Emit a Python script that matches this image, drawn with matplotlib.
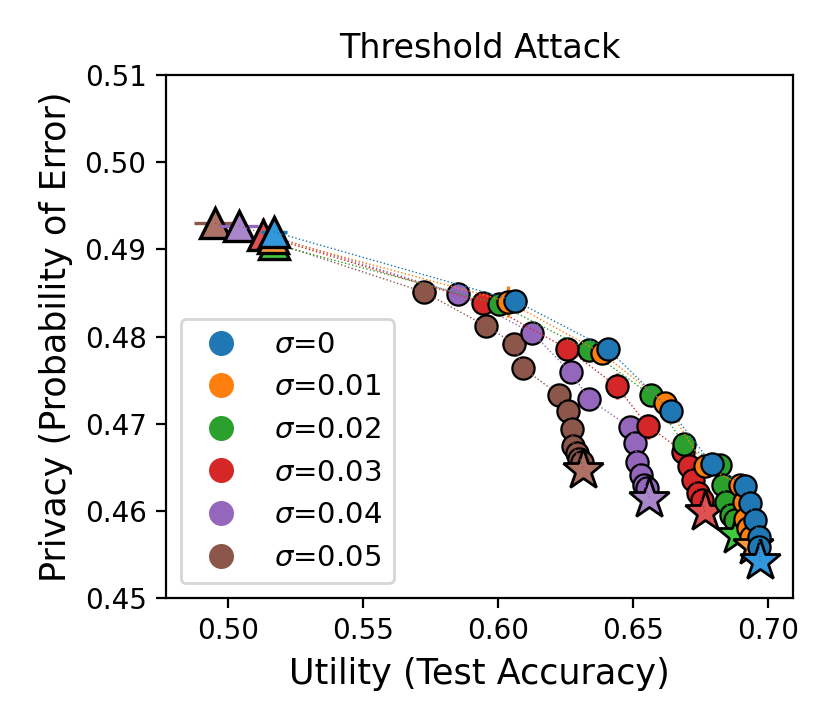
import colorsys

import matplotlib
matplotlib.use("Agg")
import matplotlib.pyplot as plt
from matplotlib.colors import to_rgb
from matplotlib.lines import Line2D

# sigma values (legend) and tab colours
sigmas = ["0", "0.01", "0.02", "0.03", "0.04", "0.05"]
colors = ["tab:blue", "tab:orange", "tab:green", "tab:red", "tab:purple", "tab:brown"]

# utility (test accuracy) / privacy (probability of error) per sigma
acc_s0 = [0.5171, 0.6063, 0.6406, 0.6639, 0.6791, 0.6914, 0.6932, 0.6950, 0.6966, 0.6968, 0.6970]
priv_s0 = [0.4920, 0.4841, 0.4786, 0.4715, 0.4654, 0.4628, 0.4609, 0.4590, 0.4570, 0.4558, 0.4542]
acc_s1 = [0.5168, 0.6038, 0.6384, 0.6618, 0.6766, 0.6896, 0.6910, 0.6914, 0.6926, 0.6936, 0.6945]
priv_s1 = [0.4913, 0.4840, 0.4781, 0.4724, 0.4651, 0.4630, 0.4610, 0.4591, 0.4580, 0.4570, 0.4560]
acc_s2 = [0.5170, 0.6005, 0.6338, 0.6565, 0.6688, 0.6822, 0.6834, 0.6844, 0.6861, 0.6877, 0.6886]
priv_s2 = [0.4906, 0.4837, 0.4784, 0.4733, 0.4677, 0.4653, 0.4630, 0.4610, 0.4595, 0.4589, 0.4572]
acc_s3 = [0.5130, 0.5946, 0.6257, 0.6439, 0.6556, 0.6686, 0.6708, 0.6723, 0.6739, 0.6754, 0.6766]
priv_s3 = [0.4916, 0.4839, 0.4786, 0.4743, 0.4697, 0.4668, 0.4651, 0.4635, 0.4620, 0.4612, 0.4599]
acc_s4 = [0.5041, 0.5853, 0.6127, 0.6269, 0.6338, 0.6489, 0.6507, 0.6516, 0.6528, 0.6540, 0.6550, 0.6559]
priv_s4 = [0.4927, 0.4849, 0.4804, 0.4759, 0.4728, 0.4696, 0.4678, 0.4656, 0.4641, 0.4630, 0.4626, 0.4614]
acc_s5 = [0.4953, 0.5726, 0.5956, 0.6059, 0.6091, 0.6227, 0.6260, 0.6273, 0.6279, 0.6291, 0.6301, 0.6310, 0.6316]
priv_s5 = [0.4930, 0.4851, 0.4812, 0.4792, 0.4764, 0.4733, 0.4715, 0.4694, 0.4674, 0.4666, 0.4660, 0.4656, 0.4647]

# error bars (std over runs)
xerr_s0 = [0.0048, 0.0044, 0.0035, 0.0020, 0.0015, 0.0012, 0.0010, 0.0010, 0.0010, 0.0010, 0.0010]
yerr_s0 = [0.0003, 0.0011, 0.0010, 0.0006, 0.0005, 0.0004, 0.0004, 0.0004, 0.0004, 0.0004, 0.0004]
xerr_s1 = [0.0030, 0.0020, 0.0020, 0.0015, 0.0012, 0.0010, 0.0010, 0.0010, 0.0010, 0.0010, 0.0010]
yerr_s1 = [0.0003, 0.0018, 0.0010, 0.0006, 0.0005, 0.0004, 0.0004, 0.0004, 0.0004, 0.0004, 0.0004]
xerr_s2 = [0.0020, 0.0020, 0.0020, 0.0015, 0.0012, 0.0010, 0.0010, 0.0010, 0.0010, 0.0010, 0.0010]
yerr_s2 = [0.0003, 0.0008, 0.0009, 0.0007, 0.0006, 0.0011, 0.0005, 0.0004, 0.0004, 0.0004, 0.0004]
xerr_s3 = [0.0020, 0.0030, 0.0020, 0.0020, 0.0015, 0.0012, 0.0010, 0.0010, 0.0010, 0.0010, 0.0010]
yerr_s3 = [0.0020, 0.0012, 0.0012, 0.0015, 0.0014, 0.0008, 0.0006, 0.0006, 0.0005, 0.0005, 0.0011]
xerr_s4 = [0.0070, 0.0040, 0.0035, 0.0020, 0.0015, 0.0012, 0.0010, 0.0010, 0.0010, 0.0010, 0.0010, 0.0010]
yerr_s4 = [0.0002, 0.0014, 0.0012, 0.0011, 0.0006, 0.0005, 0.0005, 0.0004, 0.0004, 0.0004, 0.0004, 0.0004]
xerr_s5 = [0.0080, 0.0044, 0.0020, 0.0045, 0.0035, 0.0020, 0.0015, 0.0012, 0.0010, 0.0010, 0.0010, 0.0010, 0.0010]
yerr_s5 = [0.0002, 0.0013, 0.0006, 0.0005, 0.0003, 0.0006, 0.0005, 0.0004, 0.0004, 0.0004, 0.0004, 0.0004, 0.0004]

accs = [acc_s0, acc_s1, acc_s2, acc_s3, acc_s4, acc_s5]
privs = [priv_s0, priv_s1, priv_s2, priv_s3, priv_s4, priv_s5]
xerrs = [xerr_s0, xerr_s1, xerr_s2, xerr_s3, xerr_s4, xerr_s5]
yerrs = [yerr_s0, yerr_s1, yerr_s2, yerr_s3, yerr_s4, yerr_s5]


def lighten(color, amount=0.8):
    h, l, s = colorsys.rgb_to_hls(*to_rgb(color))
    return colorsys.hls_to_rgb(h, 1 - amount * (1 - l), s)


fig = plt.figure(figsize=(4.15, 3.635), dpi=200)
ax = fig.add_axes([0.2, 0.1774, 0.7554, 0.7194])

# draw largest sigma first so sigma=0 ends up on top
for i in reversed(range(len(sigmas))):
    c = colors[i]
    x, y = accs[i], privs[i]
    ax.errorbar(x, y, xerr=xerrs[i], yerr=yerrs[i], fmt="none",
                ecolor=c, elinewidth=1.2, capsize=0)
    ax.plot(x[1:-1], y[1:-1], "o", color=c, mec="k", ms=8, mew=0.8)
    ax.plot(x[:1], y[:1], "^", color=lighten(c), mec="k", ms=11, mew=1.2)
    ax.plot(x[-1:], y[-1:], "*", color=lighten(c), mec="k", ms=15.5, mew=1.0)
    ax.plot(x, y, ":", color=c, lw=0.5)

handles = [Line2D([], [], ls="", marker="o", color=c, ms=8) for c in colors]
labels = [r"$\sigma$=" + s for s in sigmas]
ax.legend(handles, labels, loc="lower left", fontsize=10.5)

ax.set_xlim(0.4771, 0.7092)
ax.set_ylim(0.45, 0.51)
ax.set_xticks([0.50, 0.55, 0.60, 0.65, 0.70])
ax.set_yticks([0.45, 0.46, 0.47, 0.48, 0.49, 0.50, 0.51])
ax.xaxis.set_major_formatter(matplotlib.ticker.FormatStrFormatter("%.2f"))
ax.yaxis.set_major_formatter(matplotlib.ticker.FormatStrFormatter("%.2f"))
ax.tick_params(labelsize=10)

ax.set_title("Threshold Attack", fontsize=12)
ax.set_xlabel("Utility (Test Accuracy)", fontsize=12.6)
ax.set_ylabel("Privacy (Probability of Error)", fontsize=12.6)

fig.savefig("out.png", dpi=200)
plt.close(fig)
